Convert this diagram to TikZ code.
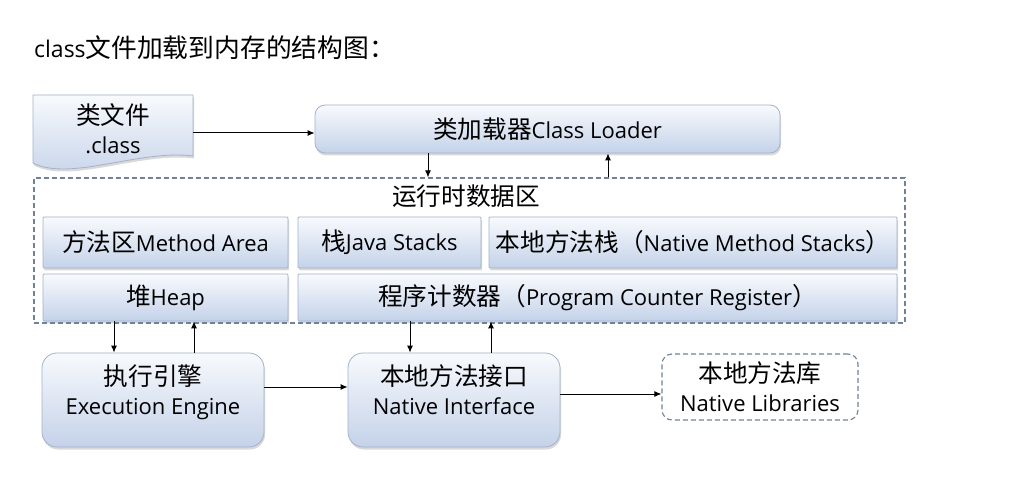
\documentclass[tikz,border=0pt]{standalone}
\usepackage{fontspec}
\setmainfont{Open Sans}
\newfontfamily\cjk[Scale=1.12]{Noto Sans CJK SC}
\newcommand{\zh}[1]{{\cjk #1}}
\usetikzlibrary{arrows.meta,shadows}
\definecolor{boxline}{HTML}{A3B2C8}
\definecolor{boxtop}{HTML}{F8FAFD}
\definecolor{boxbottom}{HTML}{C4D2E9}
\definecolor{areadash}{HTML}{71819B}

\begin{document}
\begin{tikzpicture}[x=1pt, y=-1pt,
    every node/.style={font=\fontsize{22}{29}\selectfont, inner sep=0pt},
    memory box/.style={draw=boxline, line width=0.8pt, top color=boxtop, bottom color=boxbottom,
        drop shadow={shadow xshift=1pt, shadow yshift=-2.5pt, opacity=.3}},
    area line/.style={draw=areadash, line width=1.1pt, dash pattern=on 5pt off 3pt},
    flow/.style={-{Latex[length=7pt,width=6pt]}, line width=1pt, black}
]
    \useasboundingbox (0,0) rectangle (1033,502);
    \node[anchor=west, font=\fontsize{23}{28}\selectfont] (Title node) at (34,48) {class\zh{文件加载到内存的结构图：}};

    % class file, drawn as a page with a wavy foot
    \shade[memory box] (33,95) -- (193,95) -- (193,156)
        .. controls (140,149) and (70,182) .. (33,163) -- cycle;
    \node[align=center, minimum width=160, minimum height=62] (ClassFile node) at (113,129) {\zh{类文件}\\.class};
    \node[memory box, rounded corners=10pt, minimum width=465, minimum height=48] (ClassLoader node)
        at (547.5,129) {\zh{类加载器}Class Loader};

    % runtime data area
    \node[memory box, rounded corners=1pt, minimum width=245, minimum height=51] (MethodArea node)
        at (165.5,242.5) {\zh{方法区}Method Area};
    \node[memory box, rounded corners=1pt, minimum width=183, minimum height=51] (JavaStacks node)
        at (389.5,242.5) {\zh{栈}Java Stacks};
    \node[memory box, rounded corners=1pt, minimum width=408, minimum height=51] (NativeStacks node)
        at (693,242.5) {\zh{本地方法栈（}Native Method Stacks\zh{）}};
    \node[memory box, rounded corners=1pt, minimum width=245, minimum height=47] (Heap node)
        at (165.5,297.5) {\zh{堆}Heap};
    \node[memory box, rounded corners=1pt, minimum width=599, minimum height=47] (PC node)
        at (597.5,297.5) {\zh{程序计数器（}Program Counter Register\zh{）}};
    \node[area line, minimum width=871, minimum height=145] (Runtime node) at (469.5,250.5) {};
    \node (RuntimeLabel node) at (466,196) {\zh{运行时数据区}};

    \node[memory box, rounded corners=15pt, align=center, text depth=20pt, minimum width=222, minimum height=94] (Engine node)
        at (153,400) {\zh{执行引擎}\\Execution Engine};
    \node[memory box, rounded corners=15pt, align=center, text depth=20pt, minimum width=212, minimum height=94] (Interface node)
        at (454,400) {\zh{本地方法接口}\\Native Interface};
    \node[area line, rounded corners=10pt, align=center, minimum width=196, minimum height=66] (Libraries node)
        at (760,387) {\zh{本地方法库}\\Native Libraries};

    \draw[flow] ([yshift=-4pt]ClassFile node.east) -- ([yshift=-4pt]ClassFile node.east -| ClassLoader node.west);
    \draw[flow] ([xshift=-119.5pt]ClassLoader node.south) -- ([xshift=-119.5pt]ClassLoader node.south |- Runtime node.north);
    \draw[flow] ([xshift=60.5pt]ClassLoader node.south |- Runtime node.north) -- ([xshift=60.5pt]ClassLoader node.south);
    \draw[flow] ([xshift=-51.5pt]Heap node.south) -- ([xshift=-51.5pt]Heap node.south |- Engine node.north);
    \draw[flow] ([xshift=28.5pt]Heap node.south |- Engine node.north) -- ([xshift=28.5pt]Heap node.south);
    \draw[flow] ([xshift=-44pt]Interface node.north |- PC node.south) -- ([xshift=-44pt]Interface node.north);
    \draw[flow] ([xshift=37pt]Interface node.north) -- ([xshift=37pt]Interface node.north |- PC node.south);
    \draw[flow] ([yshift=13pt]Engine node.east) -- ([yshift=13pt]Engine node.east -| Interface node.west);
    \draw[flow] ([yshift=6pt]Interface node.east) -- ([yshift=6pt]Interface node.east -| Libraries node.west);
\end{tikzpicture}
\end{document}
